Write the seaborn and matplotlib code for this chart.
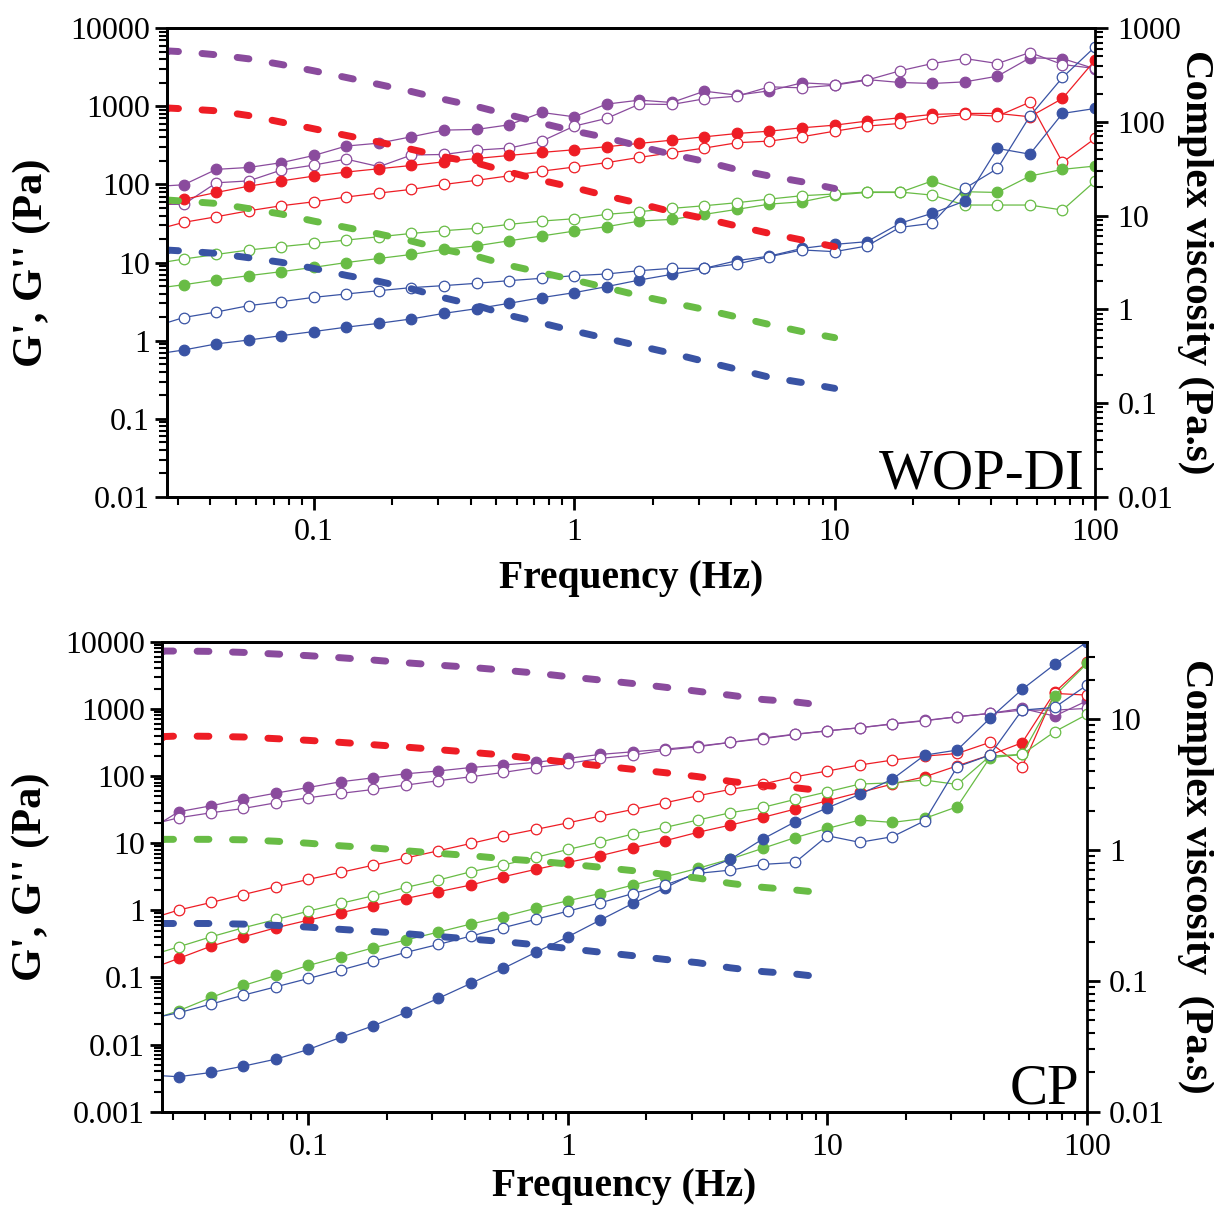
import numpy as np
import pandas as pd
import matplotlib
matplotlib.use("Agg")
import matplotlib.pyplot as plt
import matplotlib.ticker as mticker
import seaborn as sns

# ---------------- data ----------------
# frequency grid (Hz); first value lies just left of the visible axis
freq = [0.0237, 0.0316, 0.0422, 0.0562, 0.075, 0.1, 0.133, 0.178, 0.237, 0.316,
        0.422, 0.562, 0.75, 1.0, 1.33, 1.78, 2.37, 3.16, 4.22, 5.62,
        7.5, 10.0, 13.3, 17.8, 23.7, 31.6, 42.2, 56.2, 75.0, 100.0]
visc_freq = [0.0272, 0.0316, 0.0422, 0.0562, 0.075, 0.1, 0.133, 0.178, 0.237, 0.316,
             0.422, 0.562, 0.75, 1.0, 1.33, 1.78, 2.37, 3.16, 4.22, 5.62, 7.5, 10.0]

# WOP-DI panel
wop_purple_gp = [93.5, 99, 156, 165, 190, 235, 310, 338, 408, 496, 506, 580, 834, 734, 1067,
                 1200, 1120, 1563, 1390, 1580, 2000, 1900, 2200, 2020, 1960, 2056, 2430, 4170, 4090, 3020]
wop_purple_gpp = [55.6, 55.6, 105, 111, 153, 177, 211, 169, 238, 242, 275, 292, 359, 558, 700,
                  1067, 1056, 1248, 1350, 1776, 1725, 1866, 2162, 2845, 3530, 4090, 3530, 4880, 3430, 3050]
wop_red_gp = [48, 64.4, 79, 95, 111, 128, 144, 159, 175, 195, 215, 235, 257, 278, 304,
              335, 369, 407, 449, 481, 531, 574, 647, 713, 787, 811, 811, 735, 1260, 3900]
wop_red_gpp = [25.3, 32.7, 38.6, 46, 53.4, 60, 69, 77.6, 86.5, 100, 113, 129, 148, 167, 190,
               222, 255, 292, 342, 359, 408, 481, 558, 604, 713, 787, 748, 1130, 192, 388]
wop_green_gp = [4.6, 5.2, 6.0, 6.8, 7.65, 8.7, 10, 11.3, 12.7, 14.8, 16.4, 19, 21.9, 25.3, 28.8,
                34, 35.7, 41.4, 48, 56, 60, 73, 79, 79, 111, 80.7, 79, 128, 156, 172]
wop_green_gpp = [9.5, 11.1, 12.7, 14.5, 16.0, 17.6, 19.4, 21.4, 23.6, 25.6, 27.4, 30.8, 34, 36.4, 41.4,
                 44.8, 49.4, 53.4, 58.4, 65, 71.8, 75.4, 80, 80, 73, 54.5, 54.5, 54.5, 47, 110]
wop_blue_gp = [0.66, 0.76, 0.91, 1.02, 1.16, 1.31, 1.49, 1.67, 1.90, 2.24, 2.57, 3.01, 3.56, 4.12, 4.92,
               5.98, 7.07, 8.44, 10.6, 12.1, 15.2, 17.1, 18.5, 31.8, 42.7, 61.3, 289, 244, 811, 938]
wop_blue_gpp = [1.47, 1.98, 2.33, 2.81, 3.16, 3.59, 3.96, 4.37, 4.78, 5.07, 5.43, 5.87, 6.29, 6.8, 7.14,
                7.88, 8.44, 8.44, 9.6, 11.9, 14.5, 13.8, 16.3, 28.2, 31.8, 89, 160, 748, 2340, 5770]
wop_purple_eta = [573, 560, 520, 471, 410, 351, 298, 251, 211, 174, 146, 119, 97, 80, 68, 55, 45, 38, 31, 26.5, 23, 19.5]
wop_red_eta = [141, 138, 131.5, 117, 99.5, 84.5, 71.8, 61, 51, 42.5, 36.4, 29.2, 23.8, 19.9, 16.3,
               13.5, 11.0, 9.35, 7.75, 6.47, 5.5, 4.67]
wop_green_eta = [14.7, 14.3, 13.5, 11.9, 10.4, 8.75, 7.5, 6.37, 5.36, 4.37, 3.68, 2.95, 2.47, 2.06,
                 1.71, 1.40, 1.18, 1.0, 0.83, 0.69, 0.58, 0.50]
wop_blue_eta = [4.3, 4.2, 3.96, 3.56, 3.18, 2.74, 2.31, 1.99, 1.66, 1.33, 1.10, 0.865, 0.716, 0.589,
                0.491, 0.407, 0.340, 0.279, 0.230, 0.189, 0.166, 0.144]

# CP panel
cp_purple_gp = [14.8, 29.4, 36.1, 45.4, 55.7, 67.6, 82.2, 94.2, 108, 119, 134, 146, 160, 183, 210,
                230, 252, 279, 317, 367, 421, 472, 524, 601, 673, 764, 857, 1017, 782, 1321]
cp_purple_gpp = [18.2, 23.9, 28.4, 32.9, 40, 47.5, 55.1, 63.2, 73.3, 85.1, 97.5, 113, 134, 154, 183,
                 205, 244, 273, 317, 359, 417, 472, 524, 594, 666, 764, 857, 960, 960, 1017]
cp_red_gp = [0.127, 0.192, 0.293, 0.404, 0.550, 0.715, 0.919, 1.18, 1.50, 1.89, 2.38, 3.16, 4.07, 5.17, 6.50,
             8.55, 10.9, 14.5, 18.6, 24.2, 32.2, 42.9, 57.0, 75.9, 97.5, 142, 205, 313, 1762, 4920]
cp_red_gpp = [0.715, 1.01, 1.31, 1.72, 2.25, 2.89, 3.67, 4.71, 6.0, 7.7, 9.9, 12.8, 16.0, 20.1, 25.3,
              31.8, 40, 50.8, 63.2, 75.9, 97.5, 119, 146, 173, 198, 217, 317, 137, 1702, 1607]
cp_green_gp = [0.0221, 0.0319, 0.0504, 0.0760, 0.107, 0.151, 0.203, 0.277, 0.360, 0.474, 0.624, 0.802, 1.07,
               1.39, 1.78, 2.38, 3.16, 4.21, 5.80, 8.36, 12.1, 16.6, 22.1, 20.4, 23.4, 34.9, 187, 210, 1571, 4750]
cp_green_gpp = [0.203, 0.286, 0.404, 0.550, 0.731, 0.973, 1.27, 1.65, 2.19, 2.82, 3.75, 4.72, 6.14, 8.07, 10.4,
                13.7, 17.2, 22.1, 28.4, 34.1, 44.9, 58.3, 75.9, 79.4, 87.1, 75.0, 198, 210, 457, 828]
cp_blue_gp = [0.00355, 0.00332, 0.00385, 0.00478, 0.00608, 0.00847, 0.0128, 0.0191, 0.0301, 0.0487, 0.0815,
              0.136, 0.236, 0.404, 0.715, 1.27, 2.17, 3.75, 5.73, 11.5, 20.8, 33.7, 53.2, 90.1, 205, 244,
              721, 1950, 4600, 10000]
cp_blue_gpp = [0.0237, 0.0298, 0.0401, 0.0546, 0.0726, 0.0967, 0.129, 0.175, 0.236, 0.310, 0.413, 0.550,
               0.731, 0.973, 1.29, 1.78, 2.38, 3.55, 3.97, 4.83, 5.16, 12.9, 10.3, 12.5, 21.6, 137, 205,
               960, 1051, 2265]
cp_purple_eta = [33.3, 33.3, 33.1, 32.5, 31.6, 30.7, 29.6, 28.4, 27.1, 26.0, 25.0, 23.8, 22.6, 21.2,
                 20.0, 18.8, 17.6, 16.4, 15.3, 14.2, 13.6, 12.7]
cp_red_eta = [7.38, 7.46, 7.42, 7.33, 7.12, 6.91, 6.67, 6.40, 6.14, 5.87, 5.60, 5.34, 5.00, 4.69, 4.42,
              4.15, 3.91, 3.65, 3.36, 3.13, 3.00, 2.82]
cp_green_eta = [1.21, 1.21, 1.21, 1.20, 1.17, 1.13, 1.08, 1.04, 0.99, 0.946, 0.908, 0.861, 0.826, 0.784,
                0.740, 0.697, 0.653, 0.612, 0.557, 0.520, 0.496, 0.468]
cp_blue_eta = [0.275, 0.275, 0.275, 0.272, 0.266, 0.258, 0.248, 0.239, 0.230, 0.219, 0.209, 0.200, 0.189,
               0.177, 0.166, 0.156, 0.146, 0.138, 0.126, 0.118, 0.113, 0.106]

# ---------------- style ----------------
sns.set_theme(style="white")
plt.rcParams["font.family"] = ["Liberation Serif", "DejaVu Serif"]

COL = {"purple": "#8A4B9D", "red": "#EE1D25", "green": "#68BC45", "blue": "#3953A4"}

fig = plt.figure(figsize=(12.14, 12.05), dpi=100)


def fmt(v, pos):
    return "%g" % v


def style_log_axis(axis):
    axis.set_major_locator(mticker.LogLocator(base=10, numticks=100))
    axis.set_minor_locator(mticker.LogLocator(base=10, subs=np.arange(2, 10), numticks=100))
    axis.set_major_formatter(mticker.FuncFormatter(fmt))
    axis.set_minor_formatter(mticker.NullFormatter())


def draw_panel(rect, mods, viscs, ylim, ylim2, tag, tag_xy, ylab_x, ylab2, ylab2_x, xlab_y):
    ax = fig.add_axes(rect)
    ax.set_xscale("log")
    ax.set_yscale("log")
    for color, filled, vals in mods:
        df = pd.DataFrame({"f": freq, "v": vals})
        sns.lineplot(data=df, x="f", y="v", ax=ax, estimator=None, sort=False,
                     color=COL[color], linewidth=0.9, marker="o", markersize=7.6,
                     markerfacecolor=COL[color] if filled else "white",
                     markeredgecolor=COL[color], markeredgewidth=0.9)
    ax.set_xlim(0.0272, 100)
    ax.set_ylim(*ylim)
    style_log_axis(ax.xaxis)
    style_log_axis(ax.yaxis)

    ax2 = ax.twinx()
    ax2.set_yscale("log")
    for color, vals in viscs:
        df = pd.DataFrame({"f": visc_freq, "v": vals})
        sns.lineplot(data=df, x="f", y="v", ax=ax2, estimator=None, sort=False,
                     color=COL[color], linewidth=5.0, linestyle=(0, (1.7, 3.4)),
                     dash_capstyle="round", marker="o", markevery=[0], markersize=5.5,
                     markerfacecolor=COL[color], markeredgecolor=COL[color], markeredgewidth=0)
    ax2.set_xlim(0.0272, 100)
    ax2.set_ylim(*ylim2)
    style_log_axis(ax2.yaxis)

    for a in (ax, ax2):
        for sp in a.spines.values():
            sp.set_linewidth(2.0)
            sp.set_color("black")
    ax.spines["right"].set_visible(False)

    ax.tick_params(axis="both", which="major", direction="out", length=9, width=2,
                   labelsize=23, pad=3, colors="black", top=False, right=False,
                   bottom=True, left=True)
    ax.tick_params(axis="both", which="minor", direction="out", length=5.5, width=1.5,
                   top=False, right=False, bottom=True, left=True, colors="black")
    ax.tick_params(axis="x", which="major", pad=6)
    ax2.tick_params(axis="y", which="major", direction="out", length=9, width=2,
                    labelsize=23, pad=7, right=True, left=False, colors="black")
    ax2.tick_params(axis="y", which="minor", direction="out", length=5.5, width=1.5,
                    right=True, left=False, colors="black")

    lab_font = dict(fontsize=28.5, fontweight="bold", color="black")
    ax.set_xlabel("Frequency (Hz)", **lab_font)
    ax.xaxis.set_label_coords(0.5, xlab_y)
    ax.xaxis.label.set_verticalalignment("center")
    ax.set_ylabel("G', G'' (Pa)", fontsize=30.5, fontweight="bold", color="black")
    ax.yaxis.set_label_coords(ylab_x, 0.5)
    ax.yaxis.label.set_verticalalignment("center")
    ax2.set_ylabel(ylab2, rotation=270, fontsize=29.5, fontweight="bold", color="black")
    ax2.yaxis.set_label_position("right")
    ax2.yaxis.set_label_coords(ylab2_x, 0.5)
    ax2.yaxis.label.set_verticalalignment("center")

    ax.text(tag_xy[0], tag_xy[1], tag, transform=ax.transAxes, ha="right", va="baseline",
            fontsize=41, color="black")
    return ax, ax2


draw_panel([0.1373, 0.5876, 0.7647, 0.389],
           [("purple", True, wop_purple_gp), ("purple", False, wop_purple_gpp),
            ("red", True, wop_red_gp), ("red", False, wop_red_gpp),
            ("green", True, wop_green_gp), ("green", False, wop_green_gpp),
            ("blue", True, wop_blue_gp), ("blue", False, wop_blue_gpp)],
           [("purple", wop_purple_eta), ("red", wop_red_eta),
            ("green", wop_green_eta), ("blue", wop_blue_eta)],
           (0.01, 10000), (0.01, 1000), "WOP-DI", (0.989, 0.019),
           -0.145, "Complex viscosity (Pa.s)", 1.108, -0.173)

draw_panel([0.1332, 0.0774, 0.7622, 0.390],
           [("purple", True, cp_purple_gp), ("purple", False, cp_purple_gpp),
            ("red", True, cp_red_gp), ("red", False, cp_red_gpp),
            ("green", True, cp_green_gp), ("green", False, cp_green_gpp),
            ("blue", True, cp_blue_gp), ("blue", False, cp_blue_gpp)],
           [("purple", cp_purple_eta), ("red", cp_red_eta),
            ("green", cp_green_eta), ("blue", cp_blue_eta)],
           (0.001, 10000), (0.01, 39.2), "CP", (0.992, 0.0185),
           -0.142, "Complex viscosity  (Pa.s)", 1.117, -0.160)

fig.savefig("out.png", dpi=100, facecolor="white")
